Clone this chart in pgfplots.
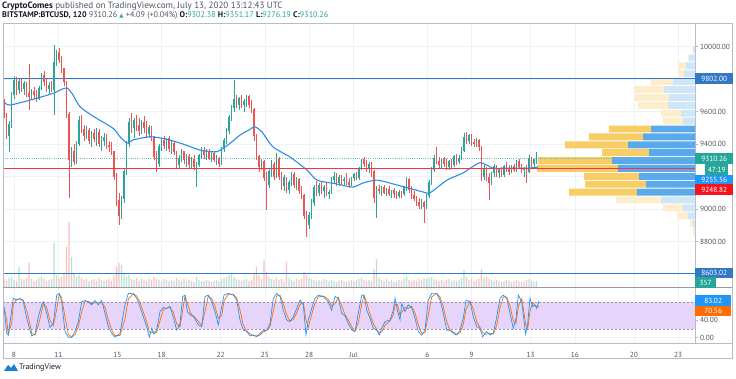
\documentclass[border=0pt]{standalone}
\usepackage{pgfplots}
\pgfplotsset{compat=1.18}
\usepackage{pgfplotstable}
\usepackage{fontspec}
\setmainfont{PT Sans}
\newfontfamily\sym{DejaVu Sans}
\definecolor{upc}{HTML}{26A69A}
\definecolor{dnc}{HTML}{EF5350}
\definecolor{volup}{HTML}{B4E0DB}
\definecolor{voldn}{HTML}{F8C0BF}
\definecolor{lineblue}{HTML}{3179C4}
\definecolor{mablue}{HTML}{2E8CE6}
\definecolor{redline}{HTML}{F23645}
\definecolor{gridc}{HTML}{EEF1F7}
\definecolor{borderc}{HTML}{B8BCC6}
\definecolor{sepc}{HTML}{9598A1}
\definecolor{labelc}{HTML}{4C525E}
\definecolor{pbright}{HTML}{5AA9EA}
\definecolor{obright}{HTML}{F9CD66}
\definecolor{ppale}{HTML}{CFE5F8}
\definecolor{opale}{HTML}{FDEDCB}
\definecolor{band}{HTML}{E6D4FA}
\definecolor{bandline}{HTML}{A08CB8}
\definecolor{kblue}{HTML}{2196F3}
\definecolor{dorange}{HTML}{FF6D00}
\definecolor{boxred}{HTML}{F5141E}
\definecolor{hdr}{HTML}{131722}
\definecolor{hdrg}{HTML}{50535E}

\pgfplotstableread{
t o h l c v
4 9650 9680 9560 9570 8
6.5 9570 9590 9430 9450 6
9 9450 9540 9350 9520 9
11.5 9520 9720 9500 9700 10
14 9700 9820 9680 9790 7
16.5 9790 9810 9700 9730 6
19 9730 9800 9710 9780 20
21.5 9780 9800 9720 9740 8
24 9740 9790 9700 9770 7
26.5 9770 9780 9690 9710 9
29 9710 9890 9610 9690 24
31.5 9690 9740 9670 9720 8
34 9720 9750 9680 9700 6
36.5 9700 9730 9660 9680 7
39 9680 9760 9670 9740 9
41.5 9740 9840 9730 9820 10
44 9820 9850 9760 9780 8
46.5 9780 9800 9720 9740 6
49 9740 9780 9710 9760 7
51.5 9760 9790 9720 9730 8
54 9730 10010 9580 9900 44
56.5 9900 9980 9880 9960 12
59 9960 9990 9900 9920 9
61.5 9920 9940 9840 9860 10
64 9860 9870 9760 9780 14
66.5 9780 9790 9560 9580 40
69 9580 9600 9070 9300 65
71.5 9300 9380 9260 9350 30
74 9350 9400 9270 9290 14
76.5 9290 9420 9280 9400 10
79 9400 9570 9390 9540 12
81.5 9540 9580 9470 9490 9
84 9490 9520 9420 9450 7
86.5 9450 9510 9430 9480 8
89 9480 9500 9400 9420 6
91.5 9420 9480 9380 9460 7
94 9460 9490 9410 9430 8
96.5 9430 9500 9390 9470 6
99 9470 9490 9380 9400 9
101.5 9400 9450 9360 9420 7
104 9420 9470 9390 9440 6
106.5 9440 9460 9370 9390 7
109 9390 9420 9350 9380 8
111.5 9380 9410 9330 9350 6
114 9350 9360 9180 9200 12
116.5 9200 9220 9020 9050 20
119 9050 9100 8900 8960 24
121.5 8960 9080 8940 9060 22
124 9060 9250 9040 9230 14
126.5 9230 9420 9210 9400 10
129 9400 9560 9380 9530 12
131.5 9530 9590 9470 9500 8
134 9500 9560 9440 9540 7
136.5 9540 9580 9480 9510 9
139 9510 9560 9450 9480 6
141.5 9480 9550 9460 9530 8
144 9530 9570 9470 9500 7
146.5 9500 9540 9440 9460 6
149 9460 9520 9440 9500 8
151.5 9500 9510 9420 9440 7
154 9440 9450 9300 9320 10
156.5 9320 9360 9230 9280 8
159 9280 9400 9260 9380 7
161.5 9380 9440 9360 9420 6
164 9420 9450 9370 9390 8
166.5 9390 9440 9360 9430 7
169 9430 9450 9350 9370 6
171.5 9370 9420 9340 9400 7
174 9400 9410 9330 9350 6
176.5 9350 9360 9250 9270 9
179 9270 9330 9250 9310 7
181.5 9310 9370 9290 9350 6
184 9350 9360 9280 9300 8
186.5 9300 9340 9260 9320 6
189 9320 9340 9250 9270 7
191.5 9270 9320 9250 9300 6
194 9300 9330 9240 9260 5
196.5 9260 9290 9135 9270 10
199 9270 9340 9260 9330 7
201.5 9330 9380 9310 9360 6
204 9360 9380 9310 9330 6
206.5 9330 9370 9300 9350 7
209 9350 9370 9300 9310 6
211.5 9310 9360 9290 9340 5
214 9340 9360 9290 9300 6
216.5 9300 9330 9270 9310 7
219 9310 9320 9260 9280 6
221.5 9280 9380 9270 9370 8
224 9370 9440 9350 9420 9
226.5 9420 9500 9400 9480 10
229 9480 9580 9460 9560 12
231.5 9560 9640 9540 9620 14
234 9620 9795 9600 9670 10
236.5 9670 9700 9620 9640 8
239 9640 9690 9610 9680 7
241.5 9680 9700 9620 9640 6
244 9640 9680 9600 9660 7
246.5 9660 9700 9630 9690 8
249 9690 9700 9620 9640 6
251.5 9640 9670 9590 9610 7
254 9610 9620 9420 9450 14
256.5 9450 9460 9300 9320 20
259 9320 9330 9230 9260 12
261.5 9260 9310 9240 9290 8
264 9290 9300 9170 9190 27
266.5 9190 9230 8995 9150 15
269 9150 9250 9130 9230 10
271.5 9230 9300 9200 9270 8
274 9270 9290 9180 9200 7
276.5 9200 9345 9190 9300 9
279 9300 9320 9180 9200 7
281.5 9200 9230 9120 9140 8
284 9140 9210 9110 9190 6
286.5 9190 9200 9100 9120 25
289 9120 9180 9090 9160 9
291.5 9160 9230 9140 9210 7
294 9210 9230 9130 9150 6
296.5 9150 9200 9120 9180 8
299 9180 9190 9090 9110 7
301.5 9110 9140 9060 9080 8
304 9080 9090 8940 8960 15
306.5 8960 8990 8830 8900 12
309 8900 8980 8880 8960 9
311.5 8960 9060 8940 9040 8
314 9040 9150 9020 9130 7
316.5 9130 9170 9080 9100 6
319 9100 9160 9080 9140 7
321.5 9140 9170 9090 9110 6
324 9110 9150 9070 9130 8
326.5 9130 9160 9080 9090 7
329 9090 9120 9060 9100 6
331.5 9100 9200 9090 9180 7
334 9180 9230 9160 9200 6
336.5 9200 9220 9140 9160 5
339 9160 9210 9140 9190 6
341.5 9190 9210 9150 9170 7
344 9170 9200 9140 9180 6
346.5 9180 9220 9150 9160 5
349 9160 9190 9130 9150 6
351.5 9150 9200 9140 9190 7
354 9190 9220 9170 9210 6
356.5 9210 9230 9180 9190 7
359 9190 9260 9180 9250 8
361.5 9250 9310 9240 9300 9
364 9300 9320 9260 9280 7
366.5 9280 9300 9230 9250 6
369 9250 9290 9220 9270 7
371.5 9270 9290 9200 9230 6
374 9230 9240 9040 9070 18
376.5 9070 9140 8945 9120 28
379 9120 9150 9090 9110 9
381.5 9110 9140 9080 9130 7
384 9130 9150 9090 9100 6
386.5 9100 9130 9080 9120 8
389 9120 9140 9080 9090 6
391.5 9090 9120 9070 9110 7
394 9110 9130 9070 9090 5
396.5 9090 9110 9060 9080 6
399 9080 9120 9070 9100 7
401.5 9100 9110 9070 9090 6
404 9090 9140 9080 9130 8
406.5 9130 9200 9110 9180 10
409 9180 9190 9100 9120 7
411.5 9120 9140 9060 9080 6
414 9080 9110 9050 9060 7
416.5 9060 9080 9020 9040 6
419 9040 9070 9000 9020 8
421.5 9020 9060 9000 9040 7
424 9040 9050 8915 9010 9
426.5 9010 9100 9000 9080 8
429 9080 9180 9070 9160 9
431.5 9160 9260 9150 9240 10
434 9240 9330 9230 9310 8
436.5 9310 9380 9280 9290 7
439 9290 9320 9250 9270 6
441.5 9270 9310 9250 9300 7
444 9300 9320 9260 9280 6
446.5 9280 9310 9240 9260 7
449 9260 9300 9240 9290 8
451.5 9290 9310 9250 9270 6
454 9270 9330 9260 9320 7
456.5 9320 9340 9270 9290 6
459 9290 9330 9280 9310 7
461.5 9310 9380 9300 9360 9
464 9360 9470 9350 9440 17
466.5 9440 9475 9400 9420 10
469 9420 9460 9400 9450 7
471.5 9450 9460 9390 9410 8
474 9410 9430 9380 9400 6
476.5 9400 9440 9380 9420 7
479 9420 9430 9360 9380 8
481.5 9380 9390 9170 9200 18
484 9200 9270 9180 9250 9
486.5 9250 9260 9170 9190 10
489 9190 9220 9055 9160 8
491.5 9160 9230 9150 9220 7
494 9220 9280 9200 9260 6
496.5 9260 9270 9200 9220 7
499 9220 9250 9190 9240 6
501.5 9240 9260 9200 9210 5
504 9210 9270 9200 9260 6
506.5 9260 9290 9230 9250 7
509 9250 9270 9210 9230 6
511.5 9230 9270 9220 9260 5
514 9260 9280 9230 9240 6
516.5 9240 9300 9230 9290 7
519 9290 9310 9250 9260 6
521.5 9260 9280 9220 9240 5
524 9240 9260 9200 9250 6
526.5 9250 9270 9160 9230 7
529 9230 9330 9220 9310 8
531.5 9310 9320 9260 9280 6
534 9280 9300 9260 9302.38 5
536.5 9302.38 9351.17 9276.19 9310.26 6
}\candles

\pgfplotstableread{
t k d
4 70 70
6.7 10 40
8.3 6 8
11.7 62 34
13.3 89 75
16.7 85 87
20 89 87
23.3 81 85
26.7 44 62
30 17 30
31.7 4 10
35 8 6
38.3 47 27
41.7 74 60
43.3 81 77
46.7 55 68
50 23 39
53.3 32 27
56.7 96 64
59.3 100 98
61.7 81 90
65 14 47
68.3 1 8
71.7 1 1
75 14 7
78.3 36 25
81.7 81 58
85 84 82
88.3 81 82
91.7 74 77
95 84 79
98.3 74 79
101.7 84 79
105 55 69
108.3 25 40
111.7 10 17
115 1 5
120 10 5
125 74 42
128.3 100 87
133.3 99 99
136.7 89 94
140 70 80
143.3 47 58
146.7 25 36
149.3 1 13
151.7 21 11
154 8 14
156.7 17 12
160 59 38
163.3 68 63
166.7 66 67
170 71 68
173.3 46 58
176.7 17 31
180 32 24
182.7 93 62
185 96 94
187.3 59 78
190.7 51 55
194 46 48
198.3 29 37
201.7 25 27
205 93 59
208.3 96 94
211.7 81 88
215 59 70
218.3 29 44
221.7 70 50
224 96 83
228.3 100 98
233.3 96 98
236.7 85 90
240 40 62
243.3 17 28
246.7 14 15
250 4 9
253.3 6 5
256.7 2 4
260 10 6
263.3 16 13
266.7 17 16
270 32 25
273.3 89 60
276.7 100 94
280 93 96
283.3 62 77
286.7 40 51
290 36 38
293.3 47 41
296.7 66 56
300 85 75
303.3 74 79
306 6 40
308.3 40 23
311.7 66 53
315 89 77
318.3 96 92
323.3 93 94
328.3 81 87
331.7 62 71
335 93 77
338.3 89 91
341.7 55 72
345 49 52
348.3 32 40
351.7 17 24
355 14 15
358.3 55 34
361.7 96 75
364 96 96
366.7 62 79
370 44 53
373.3 21 32
376.7 17 19
379.3 6 11
381.7 21 13
385 36 28
390 40 38
393.3 62 51
395 89 75
397.3 62 75
400 40 51
401.7 77 58
405 59 68
408.3 74 66
411.7 68 71
415 44 56
418.3 14 29
421.7 6 10
425 17 11
428.3 85 51
431.7 100 92
436.7 100 100
440 85 92
443.3 55 70
446.7 17 36
450 17 17
453.3 10 13
456.7 6 8
460 17 11
463.3 44 30
466 85 64
470 81 83
473.3 47 64
476.7 25 36
480 21 23
482.7 2 11
486.7 14 8
490 6 10
493.3 10 8
496.7 47 28
500 89 68
503.3 96 92
506.7 89 92
510 55 72
513.3 21 38
516 44 32
518.3 96 70
521.7 81 88
523.3 51 66
525.7 8 30
527.7 32 20
530 89 60
532.7 70 79
535 74 72
536.7 66 70
539 83.02 70.56
}\stoch

\pgfplotstableread{
y bb bo pb po
9979 0 0 2 0.5
9930 0 0 6 1
9881 0 0 9 8
9833 0 0 11 5
9784 0 0 22 22
9736 0 0 31 30
9687 0 0 26 35
9638 0 0 27 30
9590 0 0 14 20
9541 0 0 12 20
9493 44 42 0 0
9444 52 54 0 0
9395 67 63 0 0
9347 46 47 0 0
9298 83 74 0 0
9250 77 81 0 0
9201 56 55 0 0
9152 49 61 0 0
9104 58 68 0 0
9055 0 0 34 45
9007 0 0 12 20
8958 0 0 7 11
8910 0 0 2 3
8861 0 0 0.5 2
}\profile

\pgfplotsset{
  panel/.style={at={(3bp,92bp)}, anchor=south west, scale only axis,
    width=692bp, height=264bp, xmin=3, xmax=695},
  datet/.style={xtick={14,58.3,117.3,161.6,220.6,264.9,309.2,353.5,427.3,471.6,530.6,574.9,633.9,678.2}},
  lab/.style={font=\fontsize{7.4}{8}\selectfont, text=labelc},
  candle/.style n args={2}{draw=none, mark=none, restrict y to domain=1000:20000,
    error bars/.cd, y dir=plus, y explicit, error mark=none,
    error bar style={draw=#1, line width=#2}},
}
\tikzset{pbox/.style={anchor=west, inner sep=0pt, minimum height=10.5bp, minimum width=#1,
   font=\fontsize{7.4}{8}\selectfont, text=white}}

\begin{document}
\begin{tikzpicture}
\useasboundingbox (0,0) rectangle (736bp,379bp);
% ---------- price frame with grid ----------
\begin{axis}[panel, ymin=8520, ymax=10145, datet, xticklabels={}, xtick style={draw=none},
  axis line style={borderc, line width=0.6bp}, scaled y ticks=false,
  ytick={8800,9000,9200,9400,9600,9800,10000},
  yticklabels={8800.00,9000.00,,9400.00,9600.00,,10000.00},
  ytick pos=right, yticklabel pos=right, tick align=outside, major tick length=3bp,
  ytick style={borderc, line width=0.6bp}, yticklabel style={lab, inner xsep=2bp},
  grid=major, grid style={gridc, line width=0.6bp}]
\addplot[draw=none] coordinates {(3,9000)};
\end{axis}
% ---------- volume profile ----------
\begin{axis}[panel, xmin=0, xmax=692, x dir=reverse, ymin=8520, ymax=10145, hide axis,
  xbar stacked, bar width=42]
\addplot[fill=pbright, draw=none] table[x=bb, y=y]{\profile};
\addplot[fill=ppale, draw=none] table[x=pb, y=y]{\profile};
\addplot[fill=obright, draw=none] table[x=bo, y=y]{\profile};
\addplot[fill=opale, draw=none] table[x=po, y=y]{\profile};
\end{axis}
% ---------- volume ----------
\begin{axis}[panel, ymin=0, ymax=264, hide axis]
\addplot[ybar, bar width=1.4, bar shift=0pt, fill=volup, draw=none, restrict y to domain=0:1000]
  table[x=t, y expr={\thisrow{c}>=\thisrow{o} ? \thisrow{v} : -1}]{\candles};
\addplot[ybar, bar width=1.4, bar shift=0pt, fill=voldn, draw=none, restrict y to domain=0:1000]
  table[x=t, y expr={\thisrow{c}<\thisrow{o} ? \thisrow{v} : -1}]{\candles};
\end{axis}
% ---------- candles, MA, levels ----------
\begin{axis}[panel, ymin=8520, ymax=10145, hide axis]
\addplot[lineblue, line width=1bp] coordinates {(3,9802) (695,9802)};
\addplot[lineblue, line width=1bp] coordinates {(3,8603.02) (695,8603.02)};
\addplot[upc!70, line width=0.6bp, dash pattern=on 1bp off 1.2bp] coordinates {(3,9310.26) (695,9310.26)};
% wicks
\addplot[candle={upc}{0.45bp}]
  table[x=t, y expr={\thisrow{c}>=\thisrow{o} ? \thisrow{l} : -1},
        y error plus expr={\thisrow{h}-\thisrow{l}}]{\candles};
\addplot[candle={dnc}{0.45bp}]
  table[x=t, y expr={\thisrow{c}<\thisrow{o} ? \thisrow{l} : -1},
        y error plus expr={\thisrow{h}-\thisrow{l}}]{\candles};
% bodies
\addplot[candle={upc}{1.3bp}]
  table[x=t, y expr={\thisrow{c}>=\thisrow{o} ? \thisrow{o} : -1},
        y error plus expr={\thisrow{c}-\thisrow{o}+5}]{\candles};
\addplot[candle={dnc}{1.3bp}]
  table[x=t, y expr={\thisrow{c}<\thisrow{o} ? \thisrow{c} : -1},
        y error plus expr={\thisrow{o}-\thisrow{c}+5}]{\candles};
% moving average
\addplot[mablue, line width=1.1bp, smooth, tension=0.4] coordinates {
(4,9658) (10,9640) (33,9675) (53,9712) (62,9737) (67,9745) (72,9712) (80,9630)
(93,9572) (113,9497) (120,9445) (127,9406) (133,9425) (150,9445) (167,9429)
(183,9400) (200,9363) (217,9353) (230,9404) (240,9455) (250,9490) (255,9506)
(262,9474) (273,9382) (290,9320) (307,9240) (317,9178) (337,9154) (353,9135)
(363,9160) (377,9178) (397,9148) (423,9105) (430,9100) (447,9178) (463,9222)
(480,9285) (493,9252) (512,9252) (528,9252) (538,9258)};
\addplot[redline, line width=1.3bp] coordinates {(3,9248.82) (695,9248.82)};
\end{axis}
% ---------- stochastic ----------
\begin{axis}[at={(3bp,36bp)}, anchor=south west, scale only axis, width=692bp, height=56bp,
  xmin=3, xmax=695, ymin=-12, ymax=114.4,
  axis line style={borderc, line width=0.6bp},
  datet, xticklabels={8,11,15,18,22,25,28,Jul,6,9,13,16,20,23},
  xtick style={draw=none}, xticklabel style={lab, yshift=-3bp},
  ytick={0,40,80}, yticklabels={0.00,40.00,},
  ytick pos=right, yticklabel pos=right, tick align=outside, major tick length=3bp,
  ytick style={borderc, line width=0.6bp}, yticklabel style={lab, inner xsep=2bp},
  grid=major, grid style={gridc, line width=0.6bp}]
\addplot[fill=band, draw=none] coordinates {(3,20) (695,20) (695,80) (3,80)} -- cycle;
\addplot[bandline, line width=0.6bp, dash pattern=on 2bp off 2bp] coordinates {(3,80) (695,80)};
\addplot[bandline, line width=0.6bp, dash pattern=on 2bp off 2bp] coordinates {(3,20) (695,20)};
\addplot[dorange, line width=0.7bp] table[x=t, y=d]{\stoch};
\addplot[kblue, line width=0.7bp] table[x=t, y=k]{\stoch};
\end{axis}
% ---------- frame ----------
\draw[borderc, line width=0.6bp] (3bp,21bp) rectangle (732bp,356bp);
\draw[sepc, line width=0.9bp] (3bp,92bp) -- (732bp,92bp);
\draw[borderc, line width=0.6bp] (3bp,36bp) -- (732bp,36bp);
% ---------- price scale labels ----------
\node[pbox=38bp, fill=lineblue] at (695bp,300.3bp) {9802.00};
\node[pbox=38bp, fill=upc] at (695bp,220.3bp) {9310.26};
\node[pbox=23bp, fill=upc] at (705bp,209.5bp) {47:19};
\node[pbox=38bp, fill=kblue] at (695bp,199bp) {9255.56};
\node[pbox=38bp, fill=boxred] at (695bp,189.3bp) {9248.82};
\node[pbox=38bp, fill=lineblue] at (695bp,106bp) {8603.02};
\node[pbox=21bp, fill=upc] at (695bp,96.3bp) {357};
\node[pbox=36bp, fill=kblue] at (695bp,78.3bp) {83.02};
\node[pbox=36bp, fill=dorange] at (695bp,68bp) {70.56};
% ---------- header ----------
\node[anchor=west, inner sep=0pt, font=\fontsize{9.1}{10}\selectfont, text=hdrg] at (2bp,373bp)
  {\textcolor{hdr}{\bfseries CryptoComes} published on TradingView.com, July 13, 2020 13:12:43 UTC};
\node[anchor=west, inner sep=0pt, font=\fontsize{8.2}{9}\selectfont, text=hdrg] at (2bp,363.5bp)
  {\textcolor{hdr}{\bfseries BITSTAMP:BTCUSD, 120} 9310.26 \textcolor{upc}{{\sym\fontsize{5.5}{6}\selectfont ▲}} +4.09 (+0.04\%)
   \textcolor{hdr}{\bfseries O:}\textcolor{upc}{9302.38} \textcolor{hdr}{\bfseries H:}\textcolor{upc}{9351.17} \textcolor{hdr}{\bfseries L:}\textcolor{upc}{9276.19} \textcolor{hdr}{\bfseries C:}\textcolor{upc}{9310.26}};
% ---------- logo ----------
\fill[kblue!85!black] (4bp,8bp) -- (8bp,14bp) -- (11bp,11bp) -- (14bp,15bp) -- (18bp,8bp) -- cycle;
\node[anchor=west, inner sep=0pt, font=\fontsize{8}{9}\selectfont, text=hdr] at (19bp,11bp) {TradingView};
\end{tikzpicture}
\end{document}
